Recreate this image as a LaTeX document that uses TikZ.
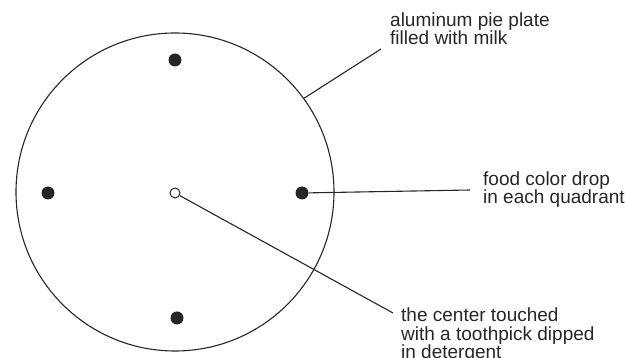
\documentclass[tikz,border=0pt]{standalone}
\usepackage{fontspec}
\setmainfont{Liberation Sans}
\usetikzlibrary{positioning}

\begin{document}
\begin{tikzpicture}[x=1pt,y=1pt,
    drop/.style={circle,fill=black!85,inner sep=0pt,minimum size=13pt},
    note/.style={align=left,inner sep=0pt,anchor=base west,text=black!85,
        font=\fontsize{19}{18.5}\selectfont},
    leader/.style={line width=1.1pt,black!85}]
    \useasboundingbox (0,0) rectangle (625,358);

    % Pie plate
    \node[draw,circle,line width=1.1pt,draw=black!85,inner sep=0pt,minimum size=318pt] (plate) at (175,166) {};

    % Food color drops
    \node[drop] (top) at (175,298) {};
    \node[drop] (left) at (48,165) {};
    \node[drop] (right) at (302,165) {};
    \node[drop] (bottom) at (177,40) {};

    % Center
    \node[draw,circle,draw=black!85,line width=1pt,inner sep=0pt,minimum size=10pt] (center) at (175,165) {};

    % Labels (base is the last line)
    \node[note] (platenote) at (390,313) {aluminum pie plate\\filled with milk};
    \node[note] (foodnote) at (483,154) {food color drop\\in each quadrant};
    \node[note] (centernote) at (401,-1) {the center touched\\with a toothpick dipped\\in detergent};

    % Leaders
    \coordinate (platetip) at (381,309);
    \coordinate (foodtip) at (470,168);
    \coordinate (centertip) at (393,45);
    \draw[leader] (plate.36) -- (platetip);
    \draw[leader] (right) -- (foodtip);
    \draw[leader] (center) -- (centertip);
\end{tikzpicture}
\end{document}
